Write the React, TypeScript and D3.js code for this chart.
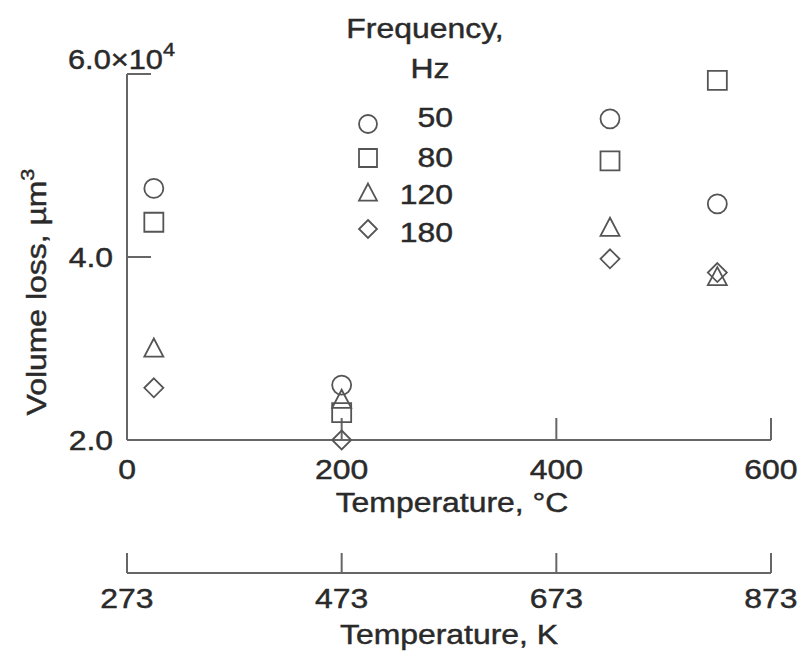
import React from "react";
import * as d3 from "d3";

const series = ["50", "80", "120", "180"];
const shapes = ["circle", "square", "triangle", "diamond"];
const temperaturesC = [25, 200, 450, 550];
// volume loss in units of 10^4 µm^3, per frequency series, per temperature
const values50 = [4.75, 2.6, 5.51, 4.58];
const values80 = [4.38, 2.3, 5.05, 5.93];
const values120 = [3.0, 2.44, 4.32, 3.78];
const values180 = [2.57, 2.0, 3.98, 3.83];
const allValues = [values50, values80, values120, values180];
const xTicksC = [0, 200, 400, 600];
const xTicksK = [273, 473, 673, 873];
const yTicks = [2.0, 4.0, 6.0];

const W = 804;
const H = 656;
const FONT = "'Liberation Sans', Arial, Helvetica, sans-serif";
const TXT = "#2a2a2a";
const AX = "#666";
const MK = "#555";
const SX = 1.14;

function markerPath(shape: string, r: number) {
  const p = d3.path();
  if (shape === "circle") {
    p.arc(0, 0, r, 0, Math.PI * 2);
  } else if (shape === "square") {
    p.rect(-r, -r, 2 * r, 2 * r);
  } else if (shape === "triangle") {
    p.moveTo(0, -r * 1.05);
    p.lineTo(r * 1.0, r * 0.85);
    p.lineTo(-r * 1.0, r * 0.85);
    p.closePath();
  } else {
    p.moveTo(0, -r);
    p.lineTo(r, 0);
    p.lineTo(0, r);
    p.lineTo(-r, 0);
    p.closePath();
  }
  return p.toString();
}

function T(props: { x: number; y: number; anchor?: string; rotate?: number; size?: number; children: any }) {
  const { x, y, anchor = "start", rotate = 0, size = 28, children } = props;
  return (
    <text
      transform={`translate(${x},${y}) rotate(${rotate}) scale(${SX},1)`}
      textAnchor={anchor}
      fontFamily={FONT}
      fontSize={size}
      fill={TXT}
      stroke={TXT}
      strokeWidth={0.45}
    >
      {children}
    </text>
  );
}

export default function App() {
  const x = d3.scaleLinear().domain([0, 600]).range([127, 771]);
  const xK = d3.scaleLinear().domain([273, 873]).range([127, 771]);
  const y = d3.scaleLinear().domain([2, 6]).range([440, 74]);
  const axisY = y(2);
  const axisK = 573;

  return (
    <svg width={W} height={H} style={{ position: "absolute", left: 0, top: 0, background: "#fff" }}>
      <rect x={0} y={0} width={W} height={H} fill="#fff" />
      {/* y axis */}
      <line x1={x(0)} x2={x(0)} y1={y(6)} y2={axisY} stroke={AX} strokeWidth={2} />
      {yTicks.filter((t) => t > 2).map((t) => (
        <line key={t} x1={x(0)} x2={x(0) + 24} y1={y(t)} y2={y(t)} stroke={AX} strokeWidth={2} />
      ))}
      {yTicks.filter((t) => t < 6).map((t) => (
        <T key={t} x={113} y={y(t) + 10} anchor="end">
          {t.toFixed(1)}
        </T>
      ))}
      <T x={68} y={69} size={27}>
        {yTicks[2].toFixed(1)}×10
        <tspan fontSize={19} dy={-13}>4</tspan>
      </T>
      <T x={46} y={292} anchor="middle" rotate={-90}>
        Volume loss, µm<tspan fontSize={19} dy={-12}>3</tspan>
      </T>

      {/* x axis °C */}
      <line x1={x(0)} x2={x(600)} y1={axisY} y2={axisY} stroke={AX} strokeWidth={2} />
      {xTicksC.filter((t) => t > 0).map((t) => (
        <line key={t} x1={x(t)} x2={x(t)} y1={axisY} y2={axisY - 22} stroke={AX} strokeWidth={2} />
      ))}
      {xTicksC.map((t) => (
        <T key={t} x={x(t)} y={479} anchor="middle">
          {t}
        </T>
      ))}
      <T x={x(300) + 3} y={512} anchor="middle">
        Temperature, °C
      </T>

      {/* x axis K */}
      <line x1={xK(273)} x2={xK(873)} y1={axisK} y2={axisK} stroke={AX} strokeWidth={2} />
      {xTicksK.map((t) => (
        <line key={t} x1={xK(t)} x2={xK(t)} y1={axisK} y2={axisK - 20} stroke={AX} strokeWidth={2} />
      ))}
      {xTicksK.map((t) => (
        <T key={t} x={xK(t)} y={608} anchor="middle">
          {t}
        </T>
      ))}
      <T x={xK(573)} y={644} anchor="middle">
        Temperature, K
      </T>

      {/* data */}
      {allValues.map((vals, si) =>
        vals.map((v, i) => (
          <path
            key={`${si}-${i}`}
            d={markerPath(shapes[si], 9.5)}
            transform={`translate(${x(temperaturesC[i])},${y(v)})`}
            fill="none"
            stroke={MK}
            strokeWidth={1.8}
          />
        ))
      )}

      {/* legend */}
      <T x={425} y={38} anchor="middle">
        Frequency,
      </T>
      <T x={430} y={78} anchor="middle">
        Hz
      </T>
      {series.map((s, si) => {
        const ly = [124, 158, 193, 229][si];
        return (
          <g key={s}>
            <path
              d={markerPath(shapes[si], 9)}
              transform={`translate(368,${ly})`}
              fill="none"
              stroke={MK}
              strokeWidth={1.8}
            />
            <T x={453} y={ly + 4 + (si === 0 ? -1 : si === 1 ? 5 : si === 2 ? 7 : 9)} anchor="end">
              {s}
            </T>
          </g>
        );
      })}
    </svg>
  );
}
